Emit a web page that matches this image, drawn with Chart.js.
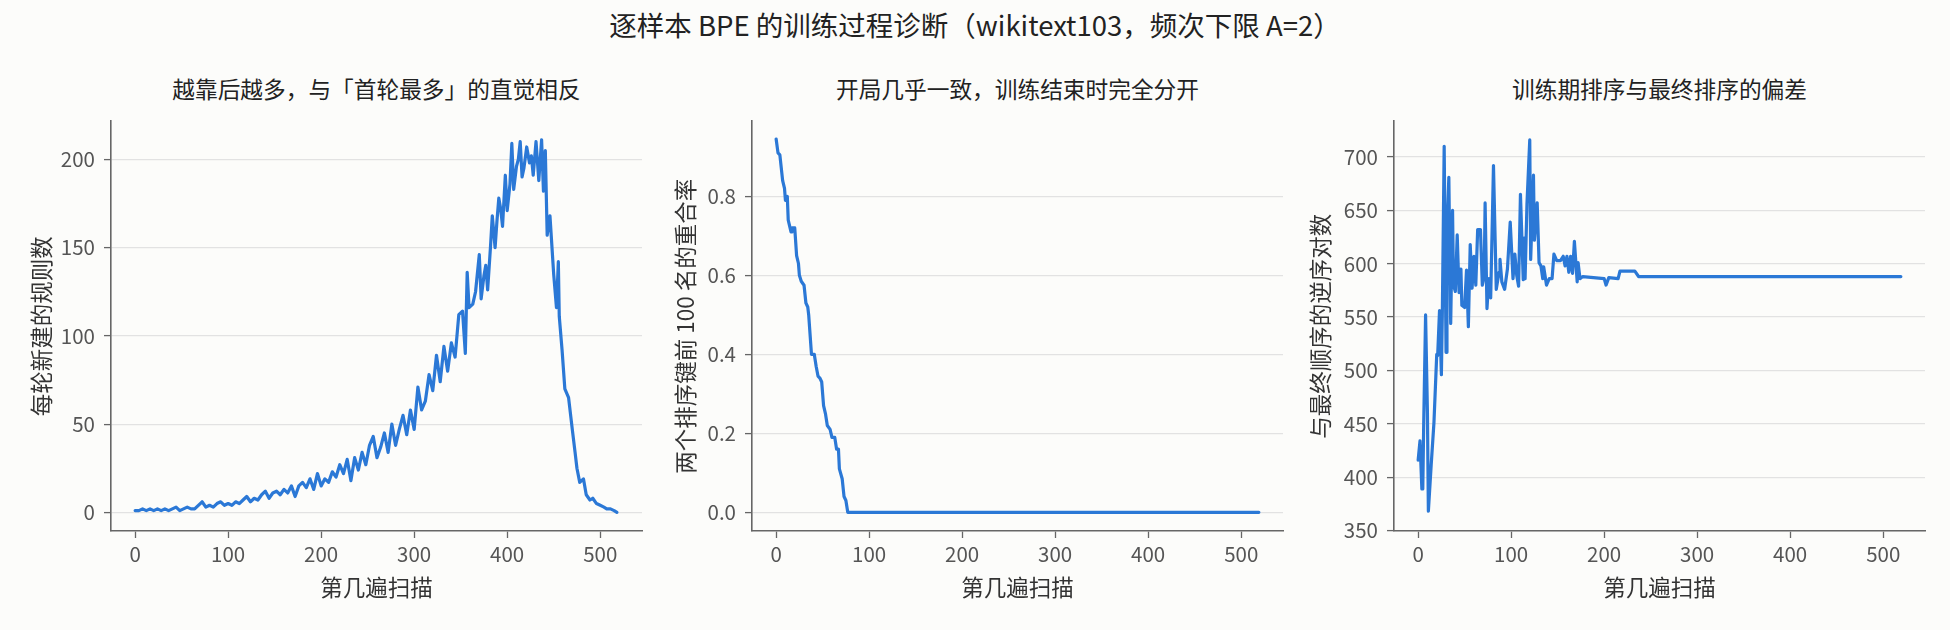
<!DOCTYPE html>
<html>
<head>
<meta charset="utf-8">
<script src="https://cdn.jsdelivr.net/npm/chart.js@4.4.0/dist/chart.umd.min.js"></script>
<style>
  html, body { margin: 0; padding: 0; background: #fcfcfa; }
  body { width: 1950px; height: 630px; position: relative; overflow: hidden;
         font-family: "Noto Sans CJK SC", "Noto Sans", sans-serif; }
  .t { position: absolute; white-space: nowrap; color: #222; text-align: center; }
  canvas { position: absolute; top: 100px; }
</style>
</head>
<body>
<div class="t" style="left:0;width:1950px;top:11px;font-size:27.5px;line-height:27.5px;">逐样本 BPE 的训练过程诊断（wikitext103，频次下限 A=2）</div>
<div class="t" style="left:111px;width:531px;top:78px;font-size:22.7px;line-height:22.7px;">越靠后越多，与「首轮最多」的直觉相反</div>
<div class="t" style="left:752px;width:531px;top:78px;font-size:22.7px;line-height:22.7px;">开局几乎一致，训练结束时完全分开</div>
<div class="t" style="left:1394px;width:531px;top:78px;font-size:22.7px;line-height:22.7px;">训练期排序与最终排序的偏差</div>
<canvas id="c1" width="641" height="501" style="left:11px"></canvas>
<canvas id="c2" width="641" height="501" style="left:652px"></canvas>
<canvas id="c3" width="641" height="501" style="left:1294px"></canvas>
<script>
// 左图：每轮新建的规则数
const rounds1 = [
  0, 4, 8, 12, 16, 20, 24, 28, 32, 36,
  40, 44, 48, 52, 56, 60, 64, 68, 72, 76,
  80, 84, 88, 92, 96, 100, 104, 108, 112, 116,
  120, 124, 128, 132, 136, 140, 144, 148, 152, 156,
  160, 164, 168, 172, 176, 180, 184, 188, 192, 196,
  200, 204, 208, 212, 216, 220, 224, 228, 232, 236,
  240, 244, 248, 252, 256, 260, 264, 268, 272, 276,
  280, 284, 288, 292, 296, 300, 304, 308, 312, 316,
  320, 324, 328, 332, 336, 340, 344, 348, 352, 355,
  357, 359, 363, 366, 370, 372, 375, 377, 379, 382,
  384, 387, 389, 391, 393, 395, 398, 400, 403, 405,
  407, 410, 412, 414, 416, 418, 421, 424, 426, 428,
  431, 434, 437, 439, 441, 443, 446, 450, 453, 455,
  456, 459, 462, 466, 470, 473, 475, 478, 482, 485,
  489, 492, 496, 500, 504, 507, 511, 515, 518
];
const newRules = [
  1, 1, 2, 1, 2, 1, 2, 1, 2, 1,
  2, 3, 1, 2, 3, 2, 2, 4, 6, 3,
  4, 3, 5, 6, 4, 5, 4, 6, 5, 7,
  9, 6, 8, 7, 10, 12, 8, 11, 12, 10,
  13, 11, 15, 9, 15, 17, 14, 19, 13, 22,
  15, 19, 17, 23, 20, 27, 22, 30, 18, 31,
  24, 34, 27, 38, 43, 31, 37, 45, 34, 50,
  38, 47, 55, 44, 58, 47, 71, 58, 63, 78,
  69, 89, 74, 94, 80, 96, 88, 112, 114, 90,
  136, 116, 118, 125, 146, 121, 134, 140, 126, 150,
  168, 150, 165, 178, 172, 162, 191, 171, 186, 209,
  183, 196, 200, 210, 190, 195, 207, 198, 202, 191,
  210, 188, 211, 182, 205, 157, 168, 135, 116, 142,
  111, 92, 70, 65, 47, 34, 25, 17, 19, 10,
  7, 8, 5, 4, 3, 2, 2, 1, 0
];

// 中图：两个排序键前 100 名的重合率
const rounds2 = [
  0, 2, 4, 7, 9, 10, 12, 13, 16, 17,
  20, 22, 24, 25, 27, 30, 32, 34, 35, 38,
  41, 43, 45, 47, 49, 51, 53, 55, 58, 60,
  63, 65, 67, 68, 71, 73, 75, 77, 519
];
const overlap = [
  0.945, 0.91, 0.905, 0.84, 0.82, 0.79, 0.80, 0.74, 0.71, 0.72,
  0.72, 0.65, 0.63, 0.60, 0.585, 0.575, 0.53, 0.52, 0.50, 0.40,
  0.40, 0.37, 0.345, 0.34, 0.33, 0.27, 0.25, 0.22, 0.21, 0.19,
  0.19, 0.16, 0.16, 0.11, 0.085, 0.04, 0.03, 0, 0
];

// 右图：与最终顺序的逆序对数
const rounds3 = [
  0, 2, 4, 5, 6, 8, 10, 11, 14, 17,
  20, 21, 23, 25, 26, 28, 30, 31, 33, 35,
  37, 38, 40, 42, 44, 46, 47, 50, 52, 54,
  56, 58, 60, 62, 64, 67, 69, 71, 72, 74,
  76, 78, 81, 84, 87, 88, 90, 93, 96, 99,
  102, 104, 106, 108, 110, 113, 114, 115, 117, 120,
  121, 124, 125, 128, 130, 132, 134, 135, 138, 141,
  144, 146, 149, 153, 156, 158, 160, 162, 164, 166,
  168, 171, 172, 174, 177, 200, 202, 205, 215, 217,
  233, 237, 519
];
const inversions = [
  416, 434, 389, 389, 451, 552, 460, 368, 411, 451,
  515, 514, 556, 496, 553, 710, 517, 628, 681, 544,
  650, 580, 574, 627, 573, 595, 561, 559, 594, 541,
  618, 577, 607, 580, 632, 632, 580, 588, 657, 558,
  586, 568, 692, 576, 592, 604, 583, 576, 595, 639,
  586, 609, 589, 579, 665, 585, 624, 586, 656, 716,
  604, 683, 622, 657, 601, 598, 586, 597, 580, 586,
  586, 609, 603, 603, 607, 598, 607, 592, 607, 591,
  621, 583, 601, 586, 588, 586, 580, 587, 586, 593,
  593, 588, 588
];

const xTicks = [0, 100, 200, 300, 400, 500];
const yTicks1 = [0, 50, 100, 150, 200];
const yTicks2 = [0, 0.2, 0.4, 0.6, 0.8];
const yTicks3 = [350, 400, 450, 500, 550, 600, 650, 700];

const FONT = '"Noto Sans CJK SC", "Noto Sans", sans-serif';
const LINE = '#2b78d6';
const AXIS = '#666666';
const LABEL_SIZE = 22.5;
const TICK_SIZE = 20.5;

function makeChart(id, xs, ys, yTicks, yMin, yMax, yLabel, yFmt, labelOffset) {
  const half = LABEL_SIZE * 1.2 / 2;
  const yWidth = labelOffset + half;
  new Chart(document.getElementById(id), {
    type: 'line',
    data: {
      datasets: [{
        data: xs.map((x, i) => ({ x: x, y: ys[i] })),
        borderColor: LINE,
        borderWidth: 3.2,
        borderJoinStyle: 'round',
        borderCapStyle: 'round',
        pointRadius: 0,
        tension: 0,
        fill: false
      }]
    },
    options: {
      responsive: false,
      animation: false,
      devicePixelRatio: 1,
      layout: { padding: { left: 100 - yWidth, top: 8, right: 10, bottom: 0 } },
      plugins: { legend: { display: false }, tooltip: { enabled: false } },
      scales: {
        x: {
          type: 'linear',
          min: -25.95,
          max: 544.95,
          afterBuildTicks: s => { s.ticks = xTicks.map(v => ({ value: v })); },
          afterFit: s => { s.height = 70; },
          grid: { color: 'rgba(0,0,0,0)', tickColor: AXIS, tickLength: 7, tickWidth: 1.3 },
          border: { display: true, color: AXIS, width: 1.6 },
          ticks: { color: '#555', padding: 4, font: { family: FONT, size: TICK_SIZE } },
          title: { display: true, text: '第几遍扫描', color: '#333', padding: 0,
                   font: { family: FONT, size: LABEL_SIZE, lineHeight: 1.2 } }
        },
        y: {
          type: 'linear',
          min: yMin,
          max: yMax,
          afterBuildTicks: s => { s.ticks = yTicks.map(v => ({ value: v })); },
          afterFit: s => { s.width = yWidth; },
          grid: { color: '#e2e2e2', lineWidth: 1.2, tickColor: AXIS, tickLength: 7, tickWidth: 1.3 },
          border: { display: true, color: AXIS, width: 1.6 },
          ticks: { color: '#555', padding: 9, font: { family: FONT, size: TICK_SIZE },
                   callback: yFmt },
          title: { display: true, text: yLabel, color: '#333', padding: 0,
                   font: { family: FONT, size: LABEL_SIZE, lineHeight: 1.2 } }
        }
      }
    }
  });
}

makeChart('c1', rounds1, newRules, yTicks1, -10.55, 221.55, '每轮新建的规则数', v => String(v), 70);
makeChart('c2', rounds2, overlap, yTicks2, -0.0472, 0.990, '两个排序键前 100 名的重合率', v => v.toFixed(1), 67);
makeChart('c3', rounds3, inversions, yTicks3, 349.5, 733.5, '与最终顺序的逆序对数', v => String(v), 74);
</script>
</body>
</html>
